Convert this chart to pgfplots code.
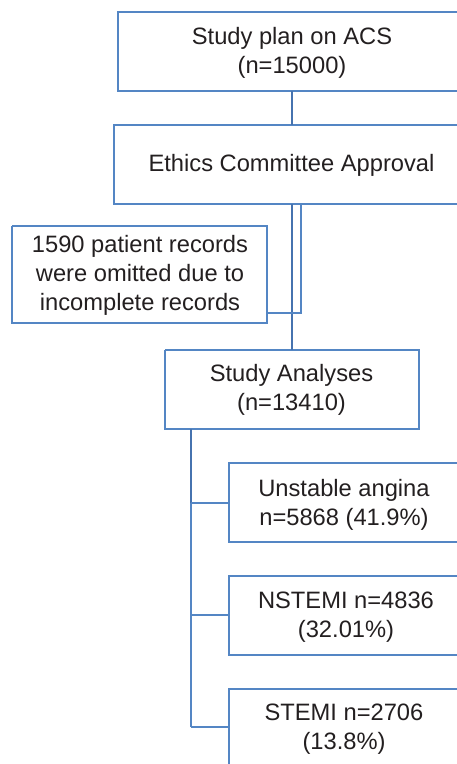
\documentclass[border=0pt]{standalone}
\usepackage{fontspec}
\setmainfont{Liberation Sans}
\usepackage{pgfplots}
\pgfplotsset{compat=1.18}
\definecolor{boxblue}{RGB}{84,134,196}
\definecolor{linkblue}{RGB}{70,115,175}
\definecolor{txt}{RGB}{35,31,32}
\begin{document}
\begin{tikzpicture}
\begin{axis}[
  width=457bp, height=764bp, scale only axis,
  xmin=0, xmax=457, ymin=0, ymax=764, y dir=reverse,
  hide axis, clip=false,
]
% boxes (right side cut off at picture edge)
\addplot[boxblue, line width=2bp, mark=none] coordinates {(457,12) (118,12) (118,91) (457,91)};
\addplot[boxblue, line width=2bp, mark=none] coordinates {(457,125) (114,125) (114,204) (457,204)};
\addplot[boxblue, line width=2bp, mark=none] coordinates {(12,226) (267,226) (267,323) (12,323) (12,226)};
\addplot[boxblue, line width=2bp, mark=none] coordinates {(165,350) (419,350) (419,429) (165,429) (165,350)};
\addplot[boxblue, line width=2bp, mark=none] coordinates {(457,463) (229,463) (229,542) (457,542)};
\addplot[boxblue, line width=2bp, mark=none] coordinates {(457,576) (229,576) (229,655) (457,655)};
\addplot[boxblue, line width=2bp, mark=none] coordinates {(457,689) (229,689) (229,764)};
% connectors
\addplot[linkblue, line width=1.5bp, mark=none] coordinates {(292,91) (292,125)};
\addplot[linkblue, line width=1.5bp, mark=none] coordinates {(292,204) (292,350)};
\addplot[boxblue, line width=1.5bp, mark=none] coordinates {(301,204) (301,313) (268,313)};
\addplot[linkblue, line width=2.5bp, mark=none] coordinates {(191,429) (191,503)};
\addplot[boxblue, line width=1.8bp, mark=none] coordinates {(191,503) (191,727)};
\addplot[boxblue, line width=1.5bp, mark=none] coordinates {(191,503) (229,503)};
\addplot[boxblue, line width=1.5bp, mark=none] coordinates {(191,615) (229,615)};
\addplot[boxblue, line width=1.5bp, mark=none] coordinates {(191,727) (229,727)};
% invisible frame for bounding box
\addplot[draw=none, mark=none] coordinates {(0,0) (457,764)};
% texts
\tikzset{lbl/.style={align=center, inner sep=0pt, text=txt, font=\fontsize{23.7bp}{29bp}\selectfont}}
\node[lbl] at (axis cs:292,52.5) {Study plan on ACS\\(n=15000)};
\node[lbl] at (axis cs:291.5,165.5) {Ethics Committee Approval};
\node[lbl] at (axis cs:140,275.5) {1590 patient records\\were omitted due to\\incomplete records};
\node[lbl] at (axis cs:291.5,389.5) {Study Analyses\\(n=13410)};
\node[lbl] at (axis cs:344,504.5) {Unstable angina\\n=5868 (41.9\%)};
\node[lbl] at (axis cs:346,617.5) {NSTEMI n=4836\\(32.01\%)};
\node[lbl] at (axis cs:344,729.5) {STEMI n=2706\\(13.8\%)};
\end{axis}
\pgfresetboundingbox
\path[use as bounding box] (current axis.south west) rectangle (current axis.north east);
\end{tikzpicture}
\end{document}
